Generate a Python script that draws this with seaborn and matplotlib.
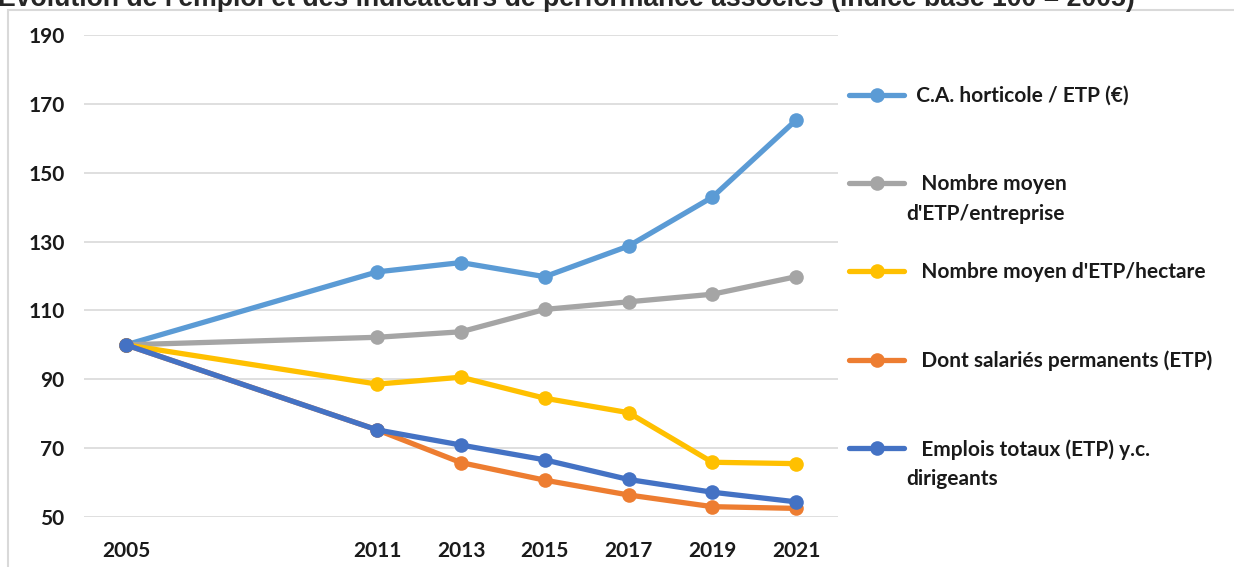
import pandas as pd
import matplotlib
matplotlib.use("Agg")
import matplotlib.pyplot as plt
from matplotlib.lines import Line2D
from matplotlib.patches import Rectangle
import seaborn as sns

# data (indice base 100 = 2005)
annees = [2005, 2011, 2013, 2015, 2017, 2019, 2021]
ca_par_etp = [100, 121.2, 123.9, 119.8, 128.7, 142.9, 165.3]
etp_par_entreprise = [100, 102.2, 103.8, 110.3, 112.5, 114.7, 119.8]
etp_par_hectare = [100, 88.6, 90.6, 84.5, 80.3, 65.9, 65.5]
salaries_permanents = [100, 75.3, 65.8, 60.7, 56.4, 53.0, 52.5]
emplois_totaux = [100, 75.3, 70.9, 66.6, 60.9, 57.2, 54.4]

series = ["ca", "entreprise", "hectare", "salaries", "emplois"]
couleurs = ["#5B9BD5", "#A5A5A5", "#FFC000", "#ED7D31", "#4472C4"]
yticks = [50, 70, 90, 110, 130, 150, 170, 190]

titre = ("Évolution de l'emploi et des indicateurs de performance associés "
         "(indice base 100 = 2005)")

df = pd.DataFrame({
    "annee": annees * 5,
    "indice": ca_par_etp + etp_par_entreprise + etp_par_hectare
    + salaries_permanents + emplois_totaux,
    "serie": [s for s in series for _ in annees],
})

sns.set_theme(style="white")
plt.rcParams["font.family"] = ["Lato", "DejaVu Sans"]

fig = plt.figure(figsize=(12.34, 5.67), dpi=100)
ax = fig.add_axes([84 / 1234, 50 / 567, 754 / 1234, 482 / 567])

sns.lineplot(
    data=df, x="annee", y="indice", hue="serie", hue_order=series,
    palette=couleurs, marker="o", markersize=10.5, markeredgewidth=0,
    linewidth=3.8, legend=False, ax=ax,
)
for line in ax.get_lines():
    line.set_clip_on(False)
    line.set_solid_capstyle("round")

ax.set_xlim(2004, 2022)
ax.set_ylim(50, 190)
ax.set_xticks(annees)
ax.set_yticks(yticks)
ax.set_xlabel("")
ax.set_ylabel("")
ax.yaxis.grid(True, color="#D9D9D9", linewidth=1.2)
ax.set_axisbelow(True)
sns.despine(ax=ax, left=True, bottom=True)
ax.tick_params(axis="both", length=0, labelsize=15)
ax.tick_params(axis="y", pad=14)
ax.tick_params(axis="x", pad=17)
for lab in ax.get_xticklabels() + ax.get_yticklabels():
    lab.set_fontweight("bold")
    lab.set_color("#1a1a1a")

# legend laid out on a regular row grid, like the Excel one
def cle(c):
    return Line2D([], [], color=c, linewidth=3.8, marker="o", markersize=10.5,
                  markeredgewidth=0, solid_capstyle="round")

vide = Line2D([], [], linestyle="none")
rangs = [
    (cle(couleurs[0]), "  C.A. horticole / ETP (€)"),
    (vide, ""), (vide, ""),
    (cle(couleurs[1]), "   Nombre moyen"),
    (vide, "d'ETP/entreprise"),
    (vide, ""),
    (cle(couleurs[2]), "   Nombre moyen d'ETP/hectare"),
    (vide, ""), (vide, ""),
    (cle(couleurs[3]), "   Dont salariés permanents (ETP)"),
    (vide, ""), (vide, ""),
    (cle(couleurs[4]), "   Emplois totaux (ETP) y.c."),
    (vide, "dirigeants"),
]
leg = ax.legend(
    [r[0] for r in rangs], [r[1] for r in rangs],
    loc="upper left", bbox_to_anchor=(849 / 1234, 1 - 86 / 567),
    bbox_transform=fig.transFigure, frameon=False, fontsize=15,
    handlelength=2.64, handletextpad=0.1, labelspacing=0.45, borderpad=0,
    borderaxespad=0,
)
for t in leg.get_texts():
    t.set_fontweight("bold")
    t.set_color("#1a1a1a")

# title, cut by the top edge of the image
fig.text(-0.002, 1 - 6 / 567, titre, ha="left", va="baseline",
         fontsize=19.2, fontweight="bold", family="Liberation Sans")

# chart frame
fig.patches.append(Rectangle((8 / 1234, -0.1), 1.2, 1.1 - 10 / 567,
                             transform=fig.transFigure, fill=False,
                             edgecolor="#D9D9D9", linewidth=1.5))

fig.savefig("out.png", dpi=100)
